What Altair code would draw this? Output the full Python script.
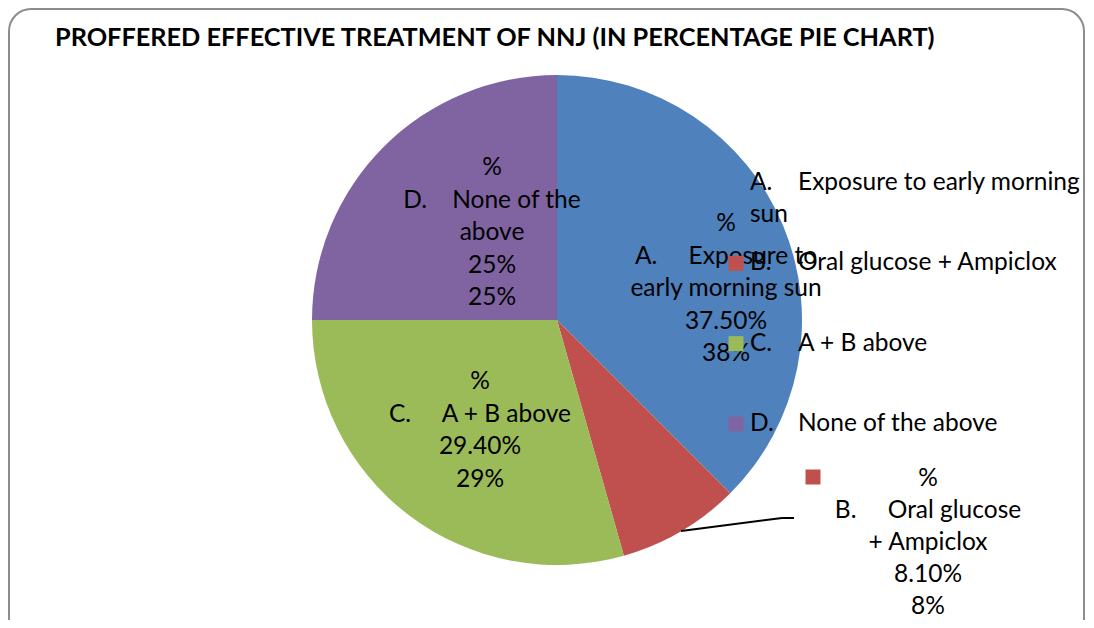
import altair as alt
import pandas as pd

# ---- data ----
cats = ["A", "B", "C", "D"]
letters = ["A.", "B.", "C.", "D."]
names = ["Exposure to early morning sun", "Oral glucose + Ampiclox", "A + B above", "None of the above"]
values = [37.5, 8.1, 29.4, 25.0]
exact_labels = ["37.50%", "8.10%", "29.40%", "25%"]
rounded_labels = ["38%", "8%", "29%", "25%"]
label_wrap_words = [2, 2, 0, 3]   # words on first line of data label (0 = no wrap)
label_gap = [5, 5, 5, 4]          # spaces between letter and name in data label
colors = ["#4F81BD", "#C0504D", "#9BBB59", "#8064A2"]
title_text = "PROFFERED EFFECTIVE TREATMENT OF NNJ (IN PERCENTAGE PIE CHART)"

FONT = "Lato"
FS = 24.5
NB = "\u00a0"

def data_label(i):
    words = names[i].split(" ")
    k = label_wrap_words[i]
    gap = NB * label_gap[i]
    if k:
        lines = [letters[i] + gap + " ".join(words[:k]), " ".join(words[k:])]
    else:
        lines = [letters[i] + gap + names[i]]
    return "\n".join(["%"] + lines + [exact_labels[i], rounded_labels[i]])

df = pd.DataFrame({
    "cat": cats,
    "idx": list(range(len(cats))),
    "value": values,
    "letter": letters,
    "name": names,
    "label": [data_label(i) for i in range(len(cats))],
})

color_scale = alt.Scale(domain=cats, range=colors)
base = alt.Chart(df)

# border
border = alt.Chart(pd.DataFrame({"k": [0]})).mark_rect(
    fill="white", stroke="#8c8c8c", strokeWidth=2, cornerRadius=22
).encode(x=alt.value(1), x2=alt.value(1076), y=alt.value(1), y2=alt.value(660))

# title
title = alt.Chart(pd.DataFrame({"t": [title_text]})).mark_text(
    font=FONT, fontSize=25.3, fontWeight="bold", align="left", baseline="middle", color="black"
).encode(text="t:N", x=alt.value(47), y=alt.value(30))

# pie
pie = base.mark_arc(outerRadius=245, stroke=None).encode(
    theta=alt.Theta("value:Q", stack=True),
    color=alt.Color("cat:N", scale=color_scale, legend=None),
    order=alt.Order("idx:Q"),
    x=alt.value(549), y=alt.value(312),
)

# data labels (positions of each label block)
label_pos = {"A": (718, 204), "B": (920, 459), "C": (472, 362), "D": (484, 148)}
label_lh = {"A": 32.5, "B": 32, "C": 32.5, "D": 32.5}
label_layers = []
for c in cats:
    px, py = label_pos[c]
    label_layers.append(
        base.transform_filter(alt.datum.cat == c).mark_text(
            font=FONT, fontSize=FS, align="center", baseline="top", lineBreak="\n",
            lineHeight=label_lh[c], color="black"
        ).encode(text="label:N", x=alt.value(px), y=alt.value(py))
    )

# key square inside B's data label
b_key = base.transform_filter(alt.datum.cat == "B").mark_square(size=225, opacity=1).encode(
    color=alt.Color("cat:N", scale=color_scale, legend=None),
    x=alt.value(805), y=alt.value(469),
)

# leader line for B
leader1 = alt.Chart(pd.DataFrame({"k": [0]})).mark_rule(color="black", strokeWidth=2).encode(
    x=alt.value(673), x2=alt.value(774), y=alt.value(523), y2=alt.value(510))
leader2 = alt.Chart(pd.DataFrame({"k": [0]})).mark_rule(color="black", strokeWidth=2).encode(
    x=alt.value(774), x2=alt.value(786), y=alt.value(510), y2=alt.value(510))

# legend
leg_y = alt.Y("cat:N", scale=alt.Scale(type="point", domain=cats, range=[175, 416], padding=0), axis=None)
leg_sq = base.mark_square(size=225, opacity=1).encode(
    y=leg_y, x=alt.value(728),
    color=alt.Color("cat:N", scale=color_scale, legend=None),
)
leg_letter = base.mark_text(font=FONT, fontSize=FS, align="left", baseline="middle", color="black").encode(
    y=leg_y, x=alt.value(742), text="letter:N")
leg_name = base.transform_calculate(
    first=alt.expr.if_(alt.datum.cat == "A", "Exposure to early morning", alt.datum.name)
).mark_text(font=FONT, fontSize=FS, align="left", baseline="middle", color="black").encode(
    y=leg_y, x=alt.value(790), text="first:N")
leg_wrap = base.transform_filter(alt.datum.cat == "A").transform_calculate(
    rest="'sun'"
).mark_text(font=FONT, fontSize=FS, align="left", baseline="middle", color="black").encode(
    y=alt.value(207), x=alt.value(742), text="rest:N")

chart = alt.layer(
    border, title, pie, *label_layers, b_key, leader1, leader2,
    leg_sq, leg_letter, leg_name, leg_wrap
).properties(
    width=1078, height=612, autosize=alt.AutoSizeParams(type="none"), padding=0
).configure_view(stroke=None)

chart.save("out.html", embed_options={"renderer": "svg", "actions": False})
